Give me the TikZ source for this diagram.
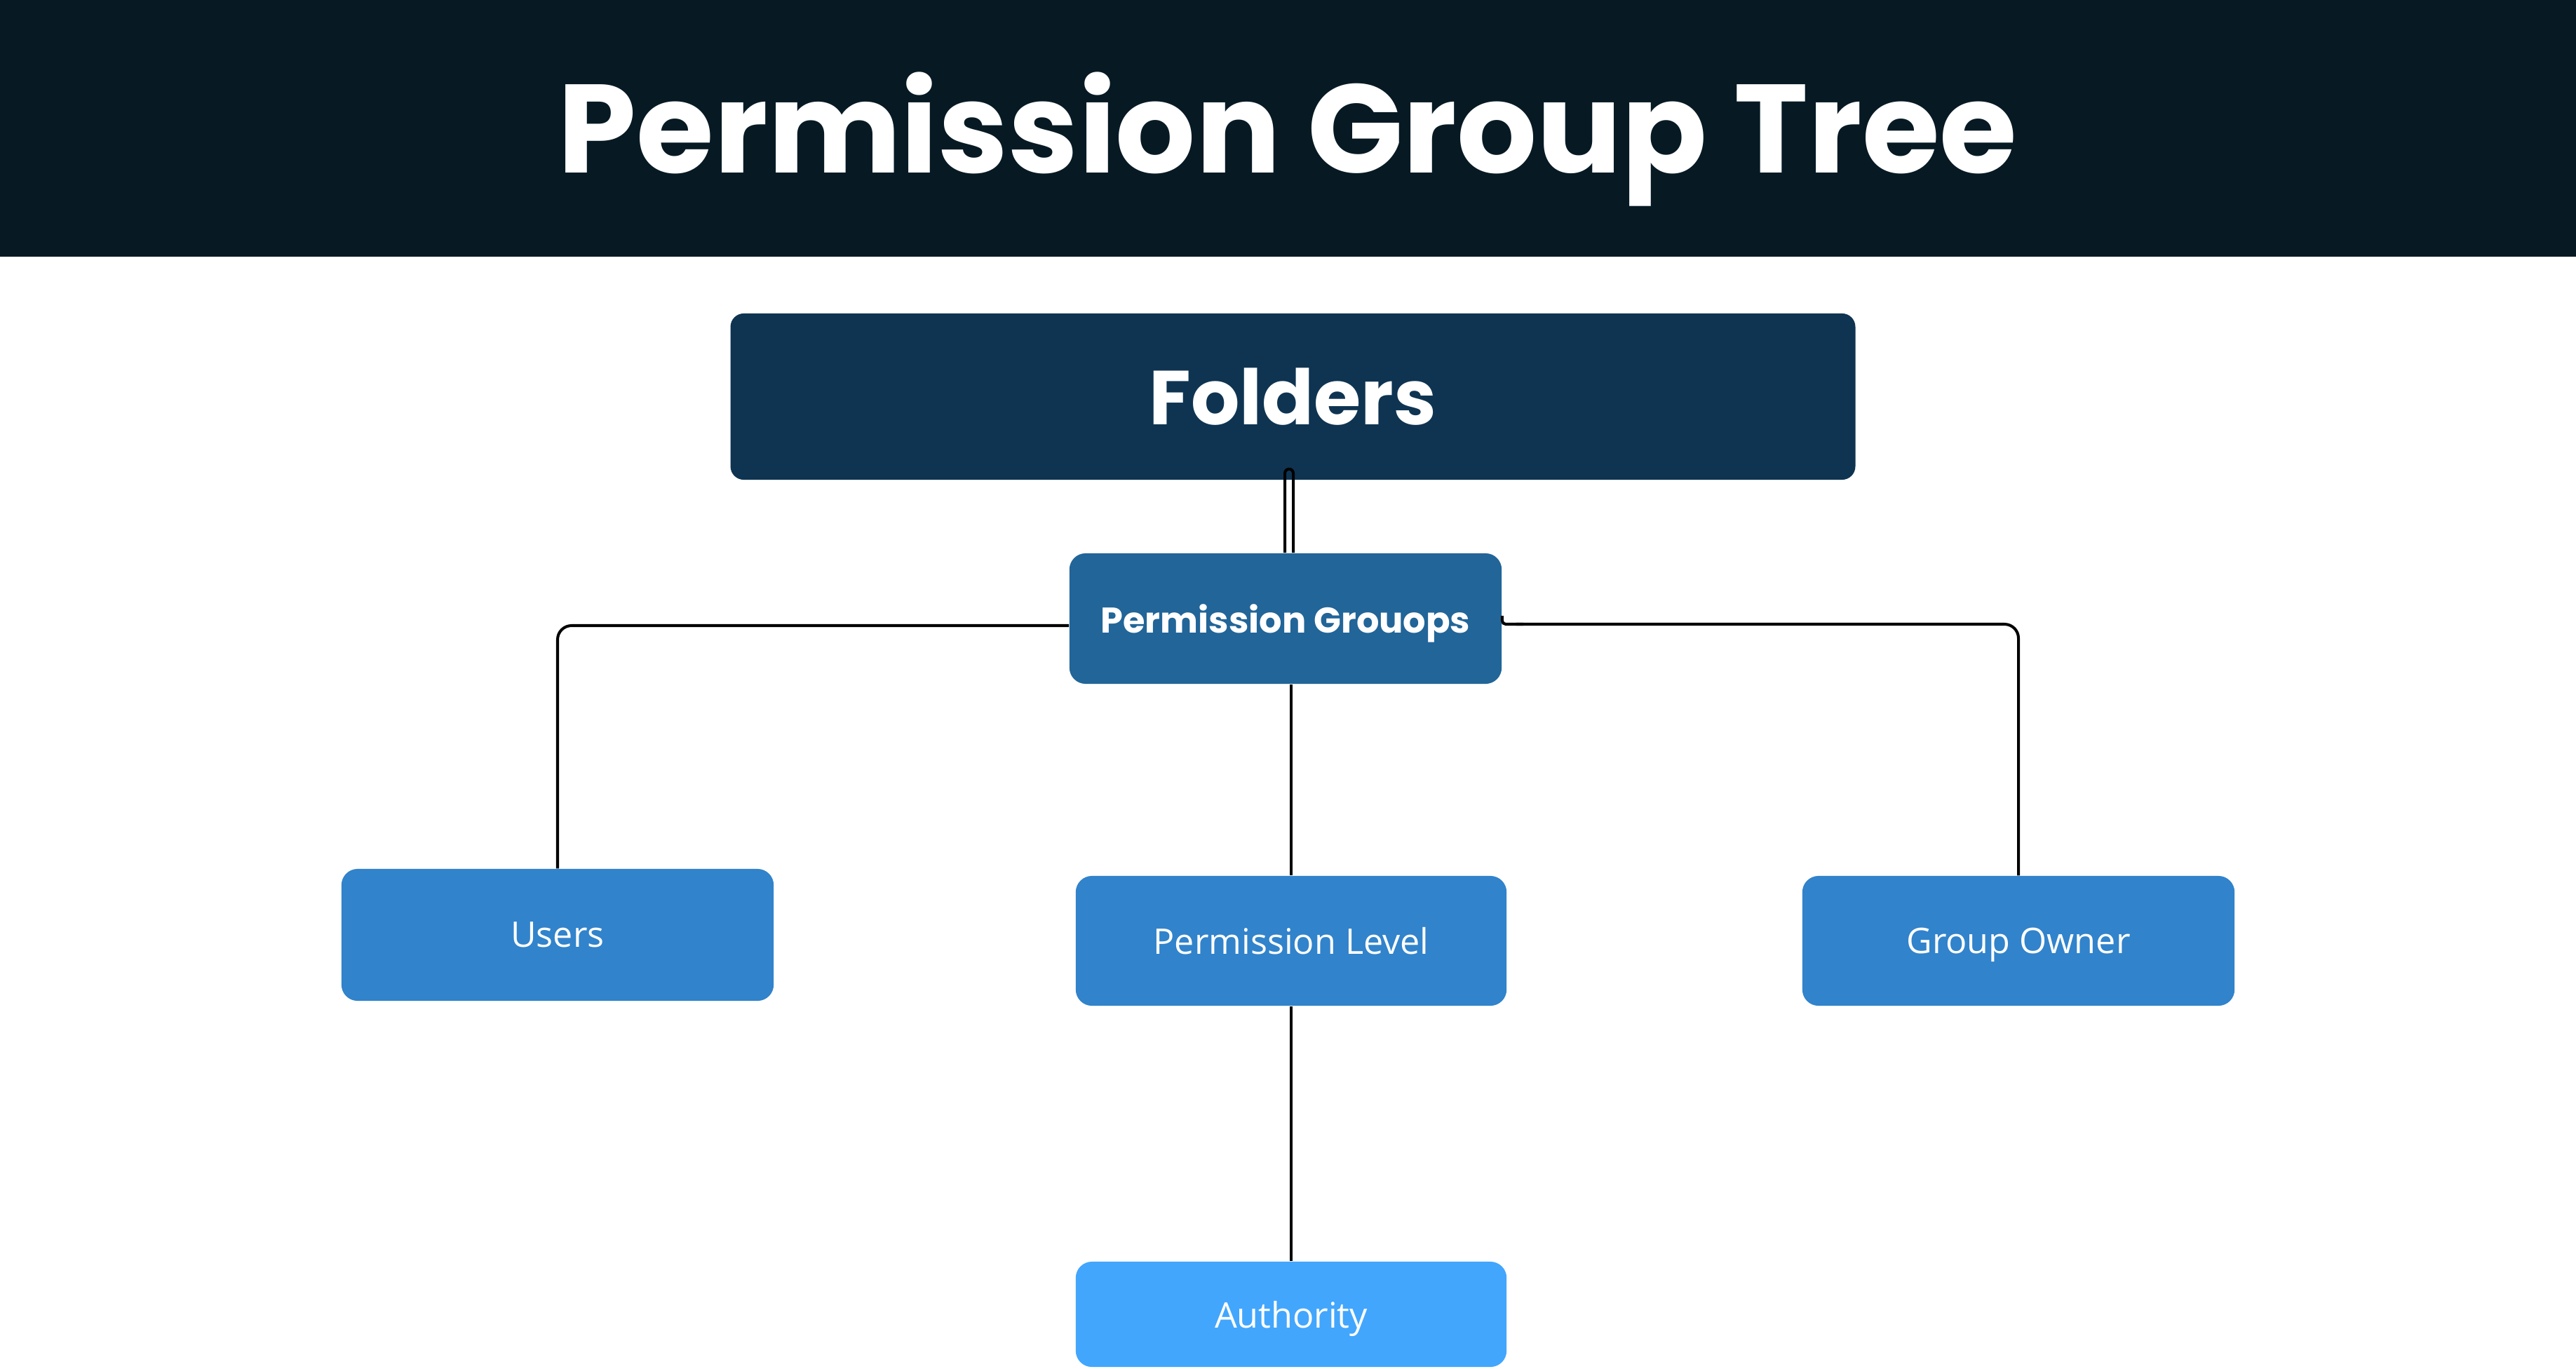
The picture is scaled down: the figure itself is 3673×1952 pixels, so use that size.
\documentclass[tikz,border=0pt]{standalone}
\usepackage{fontspec}
\setmainfont{Open Sans}
\newfontfamily\headfont{Poppins}
\usetikzlibrary{calc}
\definecolor{barbg}{HTML}{071A24}
\definecolor{folderbg}{HTML}{0F3452}
\definecolor{groupbg}{HTML}{226598}
\definecolor{leafbg}{HTML}{3183CB}
\definecolor{authbg}{HTML}{42A6FD}
\begin{document}
\begin{tikzpicture}[x=0.01cm, y=-0.01cm,
  box/.style={rectangle, rounded corners=0.23cm, text=white, inner sep=0pt,
    text depth=0pt, minimum width=6.16cm, minimum height=1.86cm},
  leaf/.style={box, fill=leafbg, font=\fontsize{14.3}{17}\selectfont},
  conn/.style={draw=black, line width=1.15pt}]
  \useasboundingbox (0,0) rectangle (3673,1952);
  \fill[white] (0,0) rectangle (3673,1952);

  % title bar
  \fill[barbg] (0,0) rectangle (3673,366);
  \node[text=white, inner sep=0pt, text depth=0pt,
        font=\headfont\bfseries\fontsize{51}{60}\selectfont] (title) at (1836,175) {Permission Group Tree};

  % boxes
  \node[box, fill=folderbg, rounded corners=0.19cm, minimum width=16.03cm, minimum height=2.37cm,
        font=\headfont\bfseries\fontsize{31}{36}\selectfont] (fold) at (1843.5,565.5) {Folders};
  \node[box, fill=groupbg, font=\headfont\bfseries\fontsize{14.5}{18}\selectfont] (pg) at (1833,882) {Permission Grouops};
  \node[leaf, minimum height=1.88cm] (users) at (795,1333) {Users};
  \node[leaf, minimum width=6.14cm, minimum height=1.85cm] (plevel) at (1841,1341.5) {Permission Level};
  \node[leaf, minimum height=1.85cm] (gowner) at (2878,1341.5) {Group Owner};
  \node[box, fill=authbg, minimum width=6.14cm, minimum height=1.50cm,
        font=\fontsize{14.3}{17}\selectfont] (auth) at (1841,1874) {Authority};

  % connectors
  \draw[conn, rounded corners=0.06cm]
    ($(pg.north)+(-1,0)$) -- ($(pg.north |- fold.south)+(-1,-16)$)
    -- ($(pg.north |- fold.south)+(11,-16)$) -- ($(pg.north)+(11,0)$);
  \draw[conn, rounded corners=0.2cm] ($(pg.west)+(0,10)$) -| (users.north);
  \draw[conn, rounded corners=0.05cm] ($(pg.east)+(0,-4)$) -- ($(pg.east)+(0,8)$) -- ($(pg.east)+(30,8)$);
  \draw[conn, rounded corners=0.2cm] ($(pg.east)+(20,8)$) -| (gowner.north);
  \draw[conn] ($(pg.south)+(8,0)$) -- (plevel.north);
  \draw[conn] (plevel.south) -- (auth.north);
\end{tikzpicture}
\end{document}
